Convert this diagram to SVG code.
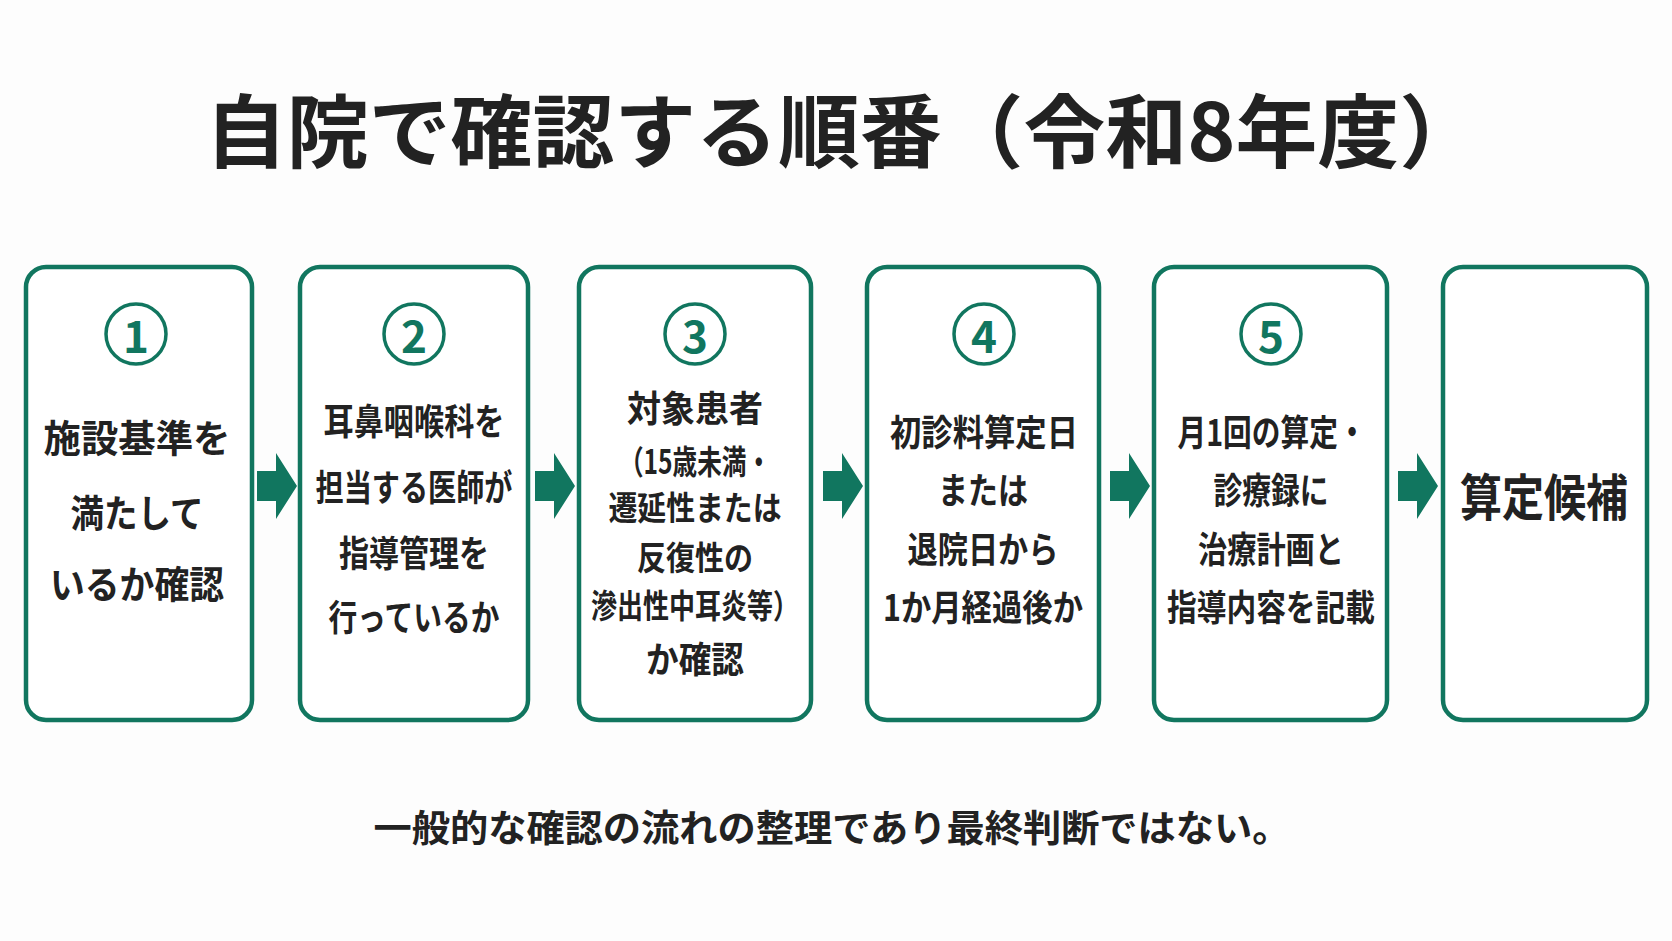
<svg xmlns="http://www.w3.org/2000/svg" width="1672" height="941" viewBox="0 0 1672 941">
<style>
.box{fill:#fff;stroke:#11765f;stroke-width:4.5}
.num{fill:#fff;stroke:#11765f;stroke-width:3.5}
.nt{font-family:"Noto Sans CJK JP","Noto Sans",sans-serif;font-weight:700;fill:#11765f;font-size:44px;text-anchor:middle;dominant-baseline:central}
.t{font-family:"Noto Sans CJK JP","Noto Sans",sans-serif;font-weight:700;fill:#222;text-anchor:middle;dominant-baseline:central}
.arr{fill:#11765f}
</style>
<rect width="1672" height="941" fill="#fdfdfd"/>
<text class="t" x="843" y="126" font-size="80" textLength="1276" lengthAdjust="spacingAndGlyphs">自院で確認する順番（令和8年度）</text>
<g id="connectors">
<polygon class="arr" points="257,471 276,471 276,453 297,486 276,519 276,501 257,501"/>
<polygon class="arr" points="535,471 554,471 554,453 575,486 554,519 554,501 535,501"/>
<polygon class="arr" points="823,471 842,471 842,453 863,486 842,519 842,501 823,501"/>
<polygon class="arr" points="1110,471 1129,471 1129,453 1150,486 1129,519 1129,501 1110,501"/>
<polygon class="arr" points="1398,471 1417,471 1417,453 1438,486 1417,519 1417,501 1398,501"/>
</g>
<g id="n1">
<rect class="box" x="26" y="267" width="226" height="453" rx="20"/>
<circle class="num" cx="136" cy="334" r="30"/><text class="nt" x="136" y="334">1</text>
<text class="t" font-size="38" x="137" y="435" textLength="187" lengthAdjust="spacingAndGlyphs">施設基準を</text>
<text class="t" font-size="38" x="137" y="510" textLength="133" lengthAdjust="spacingAndGlyphs">満たして</text>
<text class="t" font-size="38" x="137" y="581" textLength="174" lengthAdjust="spacingAndGlyphs">いるか確認</text>
</g>
<g id="n2">
<rect class="box" x="300" y="267" width="228" height="453" rx="20"/>
<circle class="num" cx="414" cy="334" r="30"/><text class="nt" x="414" y="334">2</text>
<text class="t" font-size="36" x="414" y="419" textLength="181" lengthAdjust="spacingAndGlyphs">耳鼻咽喉科を</text>
<text class="t" font-size="36" x="414" y="485" textLength="197" lengthAdjust="spacingAndGlyphs">担当する医師が</text>
<text class="t" font-size="36" x="414" y="551" textLength="150" lengthAdjust="spacingAndGlyphs">指導管理を</text>
<text class="t" font-size="36" x="414" y="615" textLength="171" lengthAdjust="spacingAndGlyphs">行っているか</text>
</g>
<g id="n3">
<rect class="box" x="579" y="267" width="232" height="453" rx="20"/>
<circle class="num" cx="695" cy="334" r="30"/><text class="nt" x="695" y="334">3</text>
<text class="t" font-size="36" x="695" y="406" textLength="136" lengthAdjust="spacingAndGlyphs">対象患者</text>
<text class="t" font-size="33" x="695" y="460" textLength="152" lengthAdjust="spacingAndGlyphs">（15歳未満・</text>
<text class="t" font-size="33" x="695" y="506" textLength="173" lengthAdjust="spacingAndGlyphs">遷延性または</text>
<text class="t" font-size="33" x="695" y="556" textLength="116" lengthAdjust="spacingAndGlyphs">反復性の</text>
<text class="t" font-size="33" x="695" y="604" textLength="208" lengthAdjust="spacingAndGlyphs">滲出性中耳炎等）</text>
<text class="t" font-size="36" x="695" y="657" textLength="98" lengthAdjust="spacingAndGlyphs">か確認</text>
</g>
<g id="n4">
<rect class="box" x="867" y="267" width="232" height="453" rx="20"/>
<circle class="num" cx="984" cy="334" r="30"/><text class="nt" x="984" y="334">4</text>
<text class="t" font-size="36" x="984" y="430" textLength="188" lengthAdjust="spacingAndGlyphs">初診料算定日</text>
<text class="t" font-size="36" x="983" y="488" textLength="90" lengthAdjust="spacingAndGlyphs">または</text>
<text class="t" font-size="36" x="983" y="547" textLength="151" lengthAdjust="spacingAndGlyphs">退院日から</text>
<text class="t" font-size="36" x="983" y="605" textLength="200" lengthAdjust="spacingAndGlyphs">1か月経過後か</text>
</g>
<g id="n5">
<rect class="box" x="1154" y="267" width="233" height="453" rx="20"/>
<circle class="num" cx="1271" cy="334" r="30"/><text class="nt" x="1271" y="334">5</text>
<text class="t" font-size="36" x="1272" y="430" textLength="189" lengthAdjust="spacingAndGlyphs">月1回の算定・</text>
<text class="t" font-size="36" x="1271" y="488" textLength="115" lengthAdjust="spacingAndGlyphs">診療録に</text>
<text class="t" font-size="36" x="1271" y="547" textLength="146" lengthAdjust="spacingAndGlyphs">治療計画と</text>
<text class="t" font-size="36" x="1271" y="605" textLength="208" lengthAdjust="spacingAndGlyphs">指導内容を記載</text>
</g>
<g id="n6">
<rect class="box" x="1443" y="267" width="204" height="453" rx="20"/>
<text class="t" font-size="50" x="1544" y="494" textLength="168" lengthAdjust="spacingAndGlyphs">算定候補</text>
</g>
<text class="t" font-size="37" x="832" y="826" textLength="917" lengthAdjust="spacingAndGlyphs">一般的な確認の流れの整理であり最終判断ではない。</text>
</svg>
